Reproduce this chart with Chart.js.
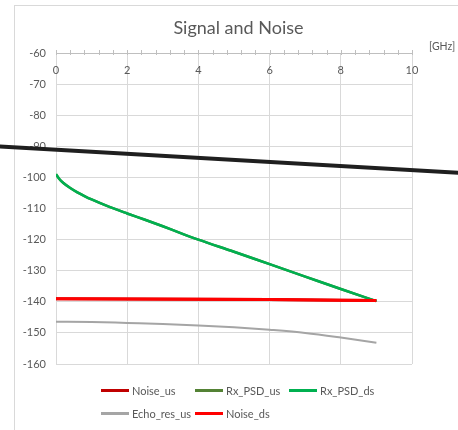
<!DOCTYPE html>
<html>
<head>
<meta charset="utf-8">
<script src="https://cdn.jsdelivr.net/npm/chart.js@4/dist/chart.umd.min.js"></script>
<style>
  html, body { margin: 0; padding: 0; background: #fff; overflow: hidden; width: 458px; height: 430px; }
  #frame { position: absolute; left: 14px; top: 5px; width: 600px; height: 600px; border: 1px solid #d9d9d9; box-sizing: border-box; }
  #title { position: absolute; left: 0; top: 14px; width: 477px; text-align: center; font-family: Lato, "Open Sans", sans-serif; font-size: 18px; color: #595959; line-height: 26px; }
  #ghz { position: absolute; left: 429px; top: 40px; font-family: Lato, sans-serif; font-size: 10.5px; color: #595959; }
  #c { position: absolute; left: 0; top: 0; }
  #legend { position: absolute; left: 101px; top: 381px; display: grid; grid-template-columns: 94px 94px 94px; row-gap: 5px; font-family: Lato, sans-serif; font-size: 11px; color: #595959; }
  .item { display: flex; align-items: center; height: 18px; white-space: nowrap; }
  .sw { width: 28px; height: 3px; margin-right: 3px; }
</style>
</head>
<body>
<div id="frame"></div>
<canvas id="c" width="458" height="430"></canvas>
<div id="title">Signal and Noise</div>
<div id="ghz">[GHz]</div>
<div id="legend"></div>
<script>
// ---- data ----
const seriesNames = ['Noise_us', 'Rx_PSD_us', 'Rx_PSD_ds', 'Echo_res_us', 'Noise_ds'];
const seriesColors = ['#C00000', '#548235', '#00B050', '#A5A5A5', '#FF0000'];

const rxFreq  = [0, 0.1, 0.2, 0.4, 0.6, 0.8, 1.0, 1.5, 2.0, 2.5, 3.0, 3.5, 4.0, 5.0, 6.0, 7.0, 8.0, 9.0];
const rxPsdDs = [-99.0, -100.6, -101.7, -103.4, -104.8, -106.0, -107.1, -109.5, -111.6, -113.6, -115.7, -117.9, -120.0, -123.9, -127.9, -131.9, -135.9, -139.8];
const rxPsdUs = [-99.0, -100.6, -101.7, -103.4, -104.8, -106.0, -107.1, -109.5, -111.6, -113.6, -115.7, -117.9, -120.0, -123.9, -127.9, -131.9, -135.9, -139.8];

const noiseFreq = [0, 2, 4, 6, 8, 9];
const noiseDs   = [-139.0, -139.1, -139.2, -139.3, -139.5, -139.6];
const noiseUs   = [-139.0, -139.1, -139.2, -139.3, -139.5, -139.6];

const echoFreq  = [0, 1, 2, 3, 4, 5, 6, 7, 8, 9];
const echoResUs = [-146.4, -146.5, -146.8, -147.1, -147.6, -148.2, -149.0, -150.0, -151.5, -153.2];

const refFreq  = [-2, 12];
const refLevel = [-89.8, -99.0];

const xTickLabels = [0, 2, 4, 6, 8, 10];
const yTicks = [-60, -70, -80, -90, -100, -110, -120, -130, -140, -150, -160];

function pts(xs, ys) { return xs.map((x, i) => ({ x: x, y: ys[i] })); }

const FONT = 'Lato, "Open Sans", sans-serif';
const TXT = '#595959';
const GRID = '#d9d9d9';

function isMajor(v) { return xTickLabels.some(t => Math.abs(t - v) < 1e-6); }

// tick marks that cross the top axis line (Excel "cross" style)
const crossTicks = {
  id: 'crossTicks',
  afterDraw(chart) {
    const s = chart.scales.x;
    const c = chart.ctx;
    const y0 = s.bottom;
    c.save();
    c.strokeStyle = '#bfbfbf';
    c.lineWidth = 1;
    c.beginPath();
    s.ticks.forEach(t => {
      const px = Math.round(s.getPixelForValue(t.value)) + 0.5;
      c.moveTo(px, y0 - 3);
      c.lineTo(px, y0 + 2);
    });
    c.stroke();
    c.restore();
  }
};

const ctx = document.getElementById('c').getContext('2d');
new Chart(ctx, {
  type: 'line',
  plugins: [crossTicks],
  data: {
    datasets: [
      { label: 'ref', data: pts(refFreq, refLevel), borderColor: '#1f1f1f', borderWidth: 4, pointRadius: 0, clip: false, order: 0 },
      { label: seriesNames[0], data: pts(noiseFreq, noiseUs), borderColor: seriesColors[0], borderWidth: 3, pointRadius: 0, order: 5 },
      { label: seriesNames[1], data: pts(rxFreq, rxPsdUs), borderColor: seriesColors[1], borderWidth: 2.5, pointRadius: 0, cubicInterpolationMode: 'monotone', order: 4 },
      { label: seriesNames[2], data: pts(rxFreq, rxPsdDs), borderColor: seriesColors[2], borderWidth: 2.5, pointRadius: 0, cubicInterpolationMode: 'monotone', order: 3 },
      { label: seriesNames[3], data: pts(echoFreq, echoResUs), borderColor: seriesColors[3], borderWidth: 2, pointRadius: 0, cubicInterpolationMode: 'monotone', order: 2 },
      { label: seriesNames[4], data: pts(noiseFreq, noiseDs), borderColor: seriesColors[4], borderWidth: 3, pointRadius: 0, order: 1 }
    ]
  },
  options: {
    responsive: false,
    animation: false,
    devicePixelRatio: 1,
    layout: { padding: { left: 0, top: 0, right: 46, bottom: 66 } },
    plugins: { legend: { display: false }, title: { display: false }, tooltip: { enabled: false } },
    scales: {
      x: {
        type: 'linear',
        position: 'top',
        min: 0, max: 10,
        afterFit: s => { s.height = 53; },
        border: { display: true, color: '#bfbfbf', width: 1 },
        grid: {
          color: c => isMajor(c.tick.value) ? GRID : 'rgba(0,0,0,0)',
          drawTicks: false
        },
        ticks: {
          stepSize: 0.4,
          autoSkip: false,
          maxRotation: 0,
          mirror: true,
          padding: 11,
          color: TXT,
          font: { family: FONT, size: 11 },
          callback: v => isMajor(v) ? String(Math.round(v)) : ''
        }
      },
      y: {
        type: 'linear',
        min: -160, max: -60,
        afterFit: s => { s.width = 56; },
        border: { display: false },
        grid: { color: GRID, drawTicks: false },
        afterBuildTicks: s => { s.ticks = yTicks.map(v => ({ value: v })); },
        ticks: { padding: 10, color: TXT, font: { family: FONT, size: 11 } }
      }
    }
  }
});

// legend (HTML, real text)
const lg = document.getElementById('legend');
seriesNames.forEach((n, i) => {
  const d = document.createElement('div');
  d.className = 'item';
  d.innerHTML = '<span class="sw" style="background:' + seriesColors[i] + '"></span><span>' + n + '</span>';
  lg.appendChild(d);
});
</script>
</body>
</html>
